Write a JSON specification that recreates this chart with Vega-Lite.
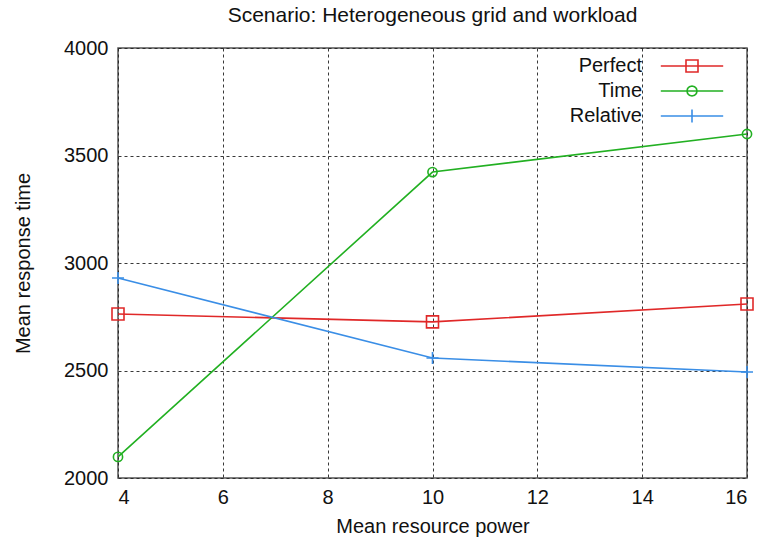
{
  "$schema": "https://vega.github.io/schema/vega-lite/v6.json",
  "width": 629,
  "height": 430,
  "autosize": {"type": "none"},
  "padding": {"left": 118, "top": 48, "right": 13, "bottom": 68},
  "background": "white",
  "title": {"text": "Scenario: Heterogeneous grid and workload", "font": "Liberation Sans", "fontSize": 21, "fontWeight": "normal", "color": "#111", "offset": 12},
  "config": {
    "view": {"stroke": "#555", "strokeWidth": 1.5},
    "axis": {"labelFont": "Liberation Sans", "titleFont": "Liberation Sans", "labelFontSize": 20, "titleFontSize": 20, "titleFontWeight": "normal", "labelColor": "#111", "titleColor": "#111", "grid": true, "gridColor": "#222", "gridDash": [3, 3], "gridOpacity": 0.9, "ticks": false, "domain": false},
    "legend": {"labelFont": "Liberation Sans", "labelFontSize": 20, "labelColor": "#111"}
  },
  "data": {"values": [
    {"x": 4, "y": 2763, "series": "Perfect"},
    {"x": 10, "y": 2726, "series": "Perfect"},
    {"x": 16, "y": 2809, "series": "Perfect"},
    {"x": 4, "y": 2098, "series": "Time"},
    {"x": 10, "y": 3423, "series": "Time"},
    {"x": 16, "y": 3600, "series": "Time"},
    {"x": 4, "y": 2930, "series": "Relative"},
    {"x": 10, "y": 2558, "series": "Relative"},
    {"x": 16, "y": 2493, "series": "Relative"}
  ]},
  "encoding": {
    "x": {"field": "x", "type": "quantitative", "scale": {"domain": [4, 16], "nice": false}, "axis": {"values": [4, 6, 8, 10, 12, 14, 16], "format": "d", "title": "Mean resource power", "labelPadding": 9, "titlePadding": 9}},
    "y": {"field": "y", "type": "quantitative", "scale": {"domain": [2000, 4000], "nice": false, "zero": false}, "axis": {"values": [2000, 2500, 3000, 3500, 4000], "format": "d", "title": "Mean response time", "labelPadding": 10, "titlePadding": 30}},
    "color": {"field": "series", "type": "nominal", "scale": {"domain": ["Perfect", "Time", "Relative"], "range": ["#e02828", "#22b022", "#3a8ee6"]}, "legend": {"title": null, "orient": "none", "legendX": 564, "legendY": 8, "symbolOpacity": 1, "symbolSize": 144, "symbolStrokeWidth": 1.6, "labelAlign": "right", "labelOffset": -60, "rowPadding": 5}}
  },
  "layer": [
    {
      "mark": {"type": "line", "strokeWidth": 1.6}
    },
    {
      "transform": [{"filter": "datum.series == 'Perfect'"}],
      "mark": {"type": "point", "shape": "square", "filled": false, "size": 144, "strokeWidth": 1.6, "opacity": 1}
    },
    {
      "transform": [{"filter": "datum.series == 'Time'"}],
      "mark": {"type": "point", "shape": "circle", "filled": false, "size": 85, "strokeWidth": 1.6, "opacity": 1}
    },
    {
      "transform": [{"filter": "datum.series == 'Relative'"}],
      "mark": {"type": "point", "shape": "M-1,0H1M0,-1V1", "filled": false, "size": 144, "strokeWidth": 1.6, "opacity": 1}
    },
    {
      "mark": {"type": "point", "filled": false, "size": 144, "strokeWidth": 1.6, "opacity": 0},
      "encoding": {
        "shape": {"field": "series", "type": "nominal", "scale": {"domain": ["Perfect", "Time", "Relative"], "range": ["M-5.2,0H5.2M-1,-1H1V1H-1Z", "M-5.2,0H5.2M0.84,0L0.727,0.42L0.42,0.727L0,0.84L-0.42,0.727L-0.727,0.42L-0.84,0L-0.727,-0.42L-0.42,-0.727L0,-0.84L0.42,-0.727L0.727,-0.42Z", "M-5.2,0H5.2M0,-1.1V1.1"]}, "legend": {"title": null, "orient": "none", "legendX": 564, "legendY": 8, "symbolOpacity": 1, "symbolSize": 144, "symbolStrokeWidth": 1.6, "labelAlign": "right", "labelOffset": -60, "rowPadding": 5}}
      }
    }
  ]
}
